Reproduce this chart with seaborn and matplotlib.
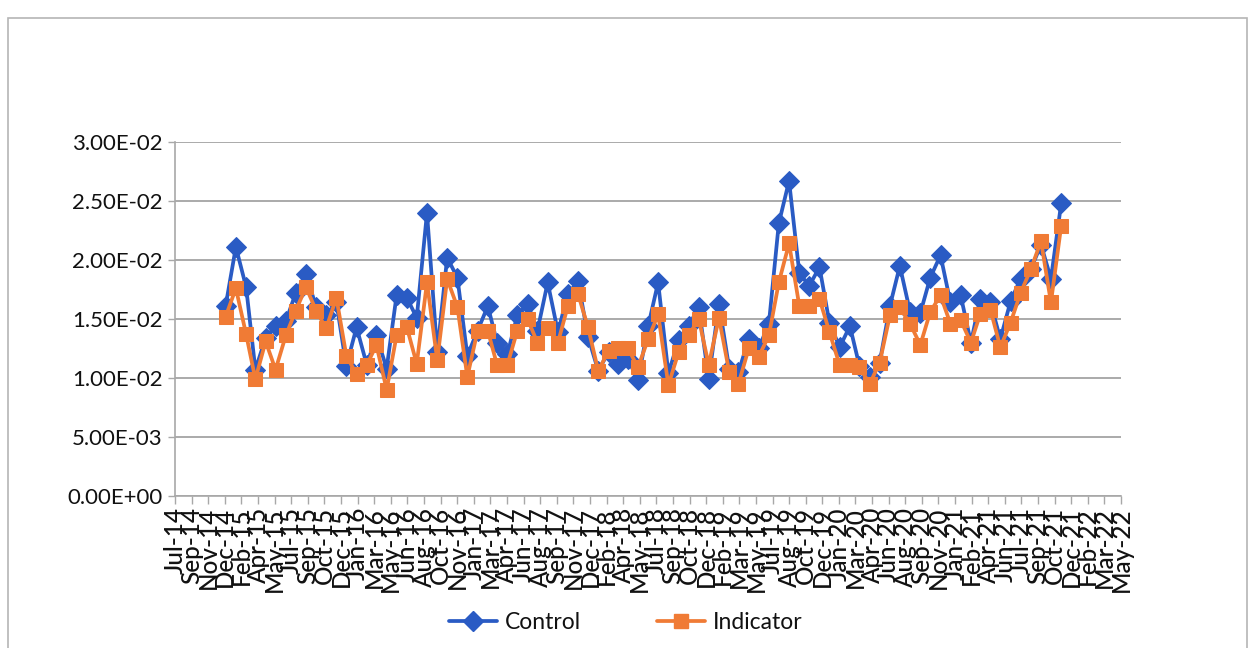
import numpy as np
import pandas as pd
import matplotlib
matplotlib.use("Agg")
import matplotlib.pyplot as plt
import matplotlib.dates as mdates
from matplotlib.patches import Rectangle
from matplotlib.lines import Line2D
from matplotlib.ticker import FuncFormatter
import seaborn as sns

# Monthly readings, Dec 2014 through Nov 2021
months = pd.date_range("2014-12-01", "2021-11-01", freq="MS")

control = [
    0.0161, 0.0211, 0.0177, 0.0107, 0.0134, 0.0144, 0.0148, 0.0172, 0.0188, 0.0160,
    0.0153, 0.0164, 0.0110, 0.0143, 0.0111, 0.0136, 0.0108, 0.0170, 0.0168, 0.0151,
    0.0240, 0.0122, 0.0202, 0.0185, 0.0119, 0.0140, 0.0161, 0.0130, 0.0120, 0.0153,
    0.0163, 0.0140, 0.0181, 0.0139, 0.0171, 0.0182, 0.0135, 0.0106, 0.0122, 0.0112,
    0.0116, 0.0098, 0.0144, 0.0181, 0.0104, 0.0132, 0.0144, 0.0160, 0.0099, 0.0163,
    0.0108, 0.0105, 0.0133, 0.0125, 0.0146, 0.0231, 0.0267, 0.0189, 0.0178, 0.0194,
    0.0147, 0.0126, 0.0144, 0.0110, 0.0101, 0.0113, 0.0161, 0.0195, 0.0156, 0.0155,
    0.0185, 0.0204, 0.0164, 0.0170, 0.0130, 0.0167, 0.0164, 0.0133, 0.0165, 0.0184,
    0.0192, 0.0213, 0.0184, 0.0248,
]

indicator = [
    0.0152, 0.0176, 0.0137, 0.0099, 0.0131, 0.0107, 0.0136, 0.0157, 0.0177, 0.0157,
    0.0142, 0.0168, 0.0119, 0.0103, 0.0111, 0.0128, 0.0090, 0.0136, 0.0143, 0.0112,
    0.0181, 0.0115, 0.0184, 0.0160, 0.0101, 0.0140, 0.0140, 0.0111, 0.0111, 0.0140,
    0.0150, 0.0130, 0.0142, 0.0130, 0.0161, 0.0171, 0.0143, 0.0106, 0.0123, 0.0125,
    0.0125, 0.0109, 0.0133, 0.0154, 0.0094, 0.0122, 0.0136, 0.0150, 0.0111, 0.0151,
    0.0105, 0.0095, 0.0125, 0.0118, 0.0136, 0.0181, 0.0214, 0.0161, 0.0161, 0.0167,
    0.0139, 0.0111, 0.0111, 0.0109, 0.0095, 0.0113, 0.0153, 0.0160, 0.0146, 0.0128,
    0.0156, 0.0170, 0.0146, 0.0149, 0.0130, 0.0154, 0.0158, 0.0126, 0.0147, 0.0172,
    0.0192, 0.0216, 0.0164, 0.0229,
]

tick_labels = [
    "Jul-14", "Sep-14", "Nov-14", "Dec-14", "Feb-15", "Apr-15", "May-15", "Jul-15",
    "Sep-15", "Oct-15", "Dec-15", "Jan-16", "Mar-16", "May-16", "Jun-16", "Aug-16",
    "Oct-16", "Nov-16", "Jan-17", "Mar-17", "Apr-17", "Jun-17", "Aug-17", "Sep-17",
    "Nov-17", "Dec-17", "Feb-18", "Apr-18", "May-18", "Jul-18", "Sep-18", "Oct-18",
    "Dec-18", "Feb-19", "Mar-19", "May-19", "Jul-19", "Aug-19", "Oct-19", "Dec-19",
    "Jan-20", "Mar-20", "Apr-20", "Jun-20", "Aug-20", "Sep-20", "Nov-20", "Jan-21",
    "Feb-21", "Apr-21", "Jun-21", "Jul-21", "Sep-21", "Oct-21", "Dec-21", "Feb-22",
    "Mar-22", "May-22",
]

y_ticks = [0.0, 0.005, 0.01, 0.015, 0.02, 0.025, 0.03]

BLUE = "#2A5BC4"
ORANGE = "#F07B35"
GRID = "#9C9C9C"
AXIS = "#A8A8A8"
TEXT = "#111111"

sns.set_theme(style="white")
plt.rcParams["font.family"] = ["Lato", "DejaVu Sans"]

df = pd.DataFrame({"month": months, "Control": control, "Indicator": indicator})

fig = plt.figure(figsize=(12.52, 6.48), dpi=100)
ax = fig.add_axes([0.1398, 0.2346, 0.8954 - 0.1398, 0.7809 - 0.2346])

sns.lineplot(data=df, x="month", y="Control", ax=ax, color=BLUE, lw=2.7,
             marker="D", markersize=10.5, markeredgecolor=BLUE, markerfacecolor=BLUE,
             zorder=3)
sns.lineplot(data=df, x="month", y="Indicator", ax=ax, color=ORANGE, lw=2.7,
             marker="s", markersize=10.5, markeredgecolor=ORANGE, markerfacecolor=ORANGE,
             zorder=4)

x0 = mdates.date2num(pd.Timestamp("2014-07-01"))
x1 = mdates.date2num(pd.Timestamp("2022-05-01"))
ax.set_xlim(x0, x1)
ax.set_xticks(np.linspace(x0, x1, len(tick_labels)))
ax.set_xticklabels(tick_labels, rotation=90, fontsize=17.5, color=TEXT, fontweight="medium")

ax.set_ylim(0, 0.03)
ax.set_yticks(y_ticks)
ax.yaxis.set_major_formatter(FuncFormatter(lambda v, _: f"{v:.2E}"))
ax.tick_params(axis="y", labelsize=16, labelcolor=TEXT, length=5, color=AXIS, width=1, pad=4)
ax.tick_params(axis="x", length=6, color=AXIS, width=1, pad=2, direction="out")
ax.tick_params(bottom=True, left=True)

ax.grid(axis="y", color=GRID, lw=1.2)
ax.grid(axis="x", visible=False)
ax.set_xlabel("")
ax.set_ylabel("")
for side in ("top", "right"):
    ax.spines[side].set_visible(False)
for side in ("left", "bottom"):
    ax.spines[side].set_color(AXIS)
    ax.spines[side].set_linewidth(1.2)

handles = [
    Line2D([], [], color=BLUE, lw=2.7, marker="D", markersize=10.5),
    Line2D([], [], color=ORANGE, lw=2.7, marker="s", markersize=10.5),
]
leg = fig.legend(handles, ["Control", "Indicator"], loc="center", bbox_to_anchor=(0.5, 0.04),
                 ncol=2, frameon=False, fontsize=16.5, handlelength=2.1, columnspacing=3.3,
                 handletextpad=0.35)
for t in leg.get_texts():
    t.set_color(TEXT)

# chart-area frame
fig.add_artist(Rectangle((8 / 1252, -0.01), (1247 - 8) / 1252, 1.01 - 18 / 648,
                         transform=fig.transFigure, fill=False, edgecolor="#B5B5B5", lw=1.2))

fig.savefig("out.png", dpi=100, facecolor="white")
